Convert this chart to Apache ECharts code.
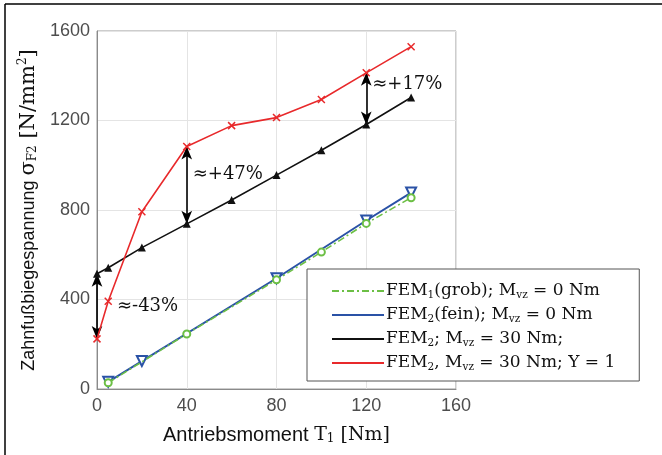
<!DOCTYPE html>
<html><head><meta charset="utf-8">
<script src="https://cdn.jsdelivr.net/npm/echarts@6/dist/echarts.min.js"></script>
<style>html,body{margin:0;padding:0;background:#fff}#c{width:662px;height:455px}</style>
</head><body><div id="c"></div>
<script>
// ---- data ----
const xTicks = [0, 40, 80, 120, 160];
const yTicks = [0, 400, 800, 1200, 1600];
const greenX = [5, 40, 80, 100, 120, 140];
const greenY = [28, 246, 488, 612, 740, 855];
const blueX = [5, 20, 80, 120, 140];
const blueY = [32, 125, 495, 753, 878];
const blackX = [0, 5, 20, 40, 60, 80, 100, 120, 140];
const blackY = [515, 542, 632, 738, 845, 956, 1067, 1182, 1303];
const redX = [0, 5, 20, 40, 60, 80, 100, 120, 140];
const redY = [224, 392, 792, 1084, 1177, 1213, 1294, 1413, 1530];
const annLabels = ['≈-43%', '≈+47%', '≈+17%'];
const annIdx = [0, 3, 7]; // indices into black/red arrays where arrows are
const legendNames = ['g', 'b', 'k', 'r'];

const pair = (xs, ys) => xs.map((x, i) => [x, ys[i]]);
const SERIF = 'DejaVu Serif';
const SANS = 'Liberation Sans';

const richLegend = {
  t: {fontFamily: SERIF, fontSize: 17, color: '#111'},
  s: {fontFamily: SERIF, fontSize: 10.5, color: '#111', padding: [9, 0, 0, 0]}
};
const legendText = {
  g: '{t|FEM}{s|1}{t|(grob); M}{s|vz}{t| = 0 Nm}',
  b: '{t|FEM}{s|2}{t|(fein); M}{s|vz}{t| = 0 Nm}',
  k: '{t|FEM}{s|2}{t|; M}{s|vz}{t| = 30 Nm;}',
  r: '{t|FEM}{s|2}{t|, M}{s|vz}{t| = 30 Nm; Y = 1}'
};

const chart = echarts.init(document.getElementById('c'), null, {renderer: 'canvas'});
const arrowPairs = annIdx.map(i => [{coord: [blackX[i], blackY[i]]}, {coord: [redX[i], redY[i]]}]);

const option = {
  animation: false,
  grid: {left: 97, top: 31, right: 206, bottom: 66, show: true, borderColor: '#9a9a9a', borderWidth: 1},
  xAxis: {
    type: 'value', min: xTicks[0], max: xTicks[xTicks.length - 1], interval: 40,
    axisLine: {lineStyle: {color: '#8a8a8a', width: 1}},
    axisTick: {show: false},
    splitLine: {lineStyle: {color: '#e4e4e4'}},
    axisLabel: {fontFamily: SANS, fontSize: 18, color: '#4d4d4d', margin: 8, formatter: v => String(v)},
    name: '{s|Antriebsmoment }{g|T}{sub|1}{g| [Nm]}',
    nameLocation: 'middle', nameGap: 36,
    nameTextStyle: {rich: {
      s: {fontFamily: SANS, fontSize: 20, color: '#111'},
      g: {fontFamily: SERIF, fontSize: 19, color: '#111'},
      sub: {fontFamily: SERIF, fontSize: 12, color: '#111', padding: [8, 0, 0, 0]}
    }}
  },
  yAxis: {
    type: 'value', min: yTicks[0], max: yTicks[yTicks.length - 1], interval: 400,
    axisLine: {show: true, lineStyle: {color: '#8a8a8a', width: 1}},
    axisTick: {show: false},
    splitLine: {lineStyle: {color: '#e4e4e4'}},
    axisLabel: {fontFamily: SANS, fontSize: 18, color: '#4d4d4d', margin: 7, formatter: v => String(v)},
    name: '{s|Zahnfußbiegespannung }{g|σ}{sub|F2}{g| [N/mm}{sup|2}{g|]}',
    nameLocation: 'middle', nameGap: 40,
    nameTextStyle: {rich: {
      s: {fontFamily: SANS, fontSize: 18, color: '#111'},
      g: {fontFamily: SERIF, fontSize: 21, color: '#111'},
      sub: {fontFamily: SERIF, fontSize: 12, color: '#111', padding: [9, 0, 0, 0]},
      sup: {fontFamily: SERIF, fontSize: 12, color: '#111', padding: [0, 0, 12, 0]}
    }}
  },
  legend: {
    orient: 'vertical', left: 307, top: 269,
    padding: [12, 24, 8, 24],
    backgroundColor: '#fff', borderColor: '#555', borderWidth: 1,
    itemWidth: 52, itemHeight: 14, itemGap: 4,
    itemStyle: {opacity: 0},
    data: legendNames,
    formatter: n => legendText[n],
    textStyle: {rich: richLegend, fontFamily: SERIF, fontSize: 17, lineHeight: 20, padding: [0, 0, 0, -3]}
  },
  series: [
    {name: 'g', type: 'line', data: pair(greenX, greenY), z: 4,
      symbol: 'emptyCircle', symbolSize: 7,
      lineStyle: {color: '#6cbf45', width: 1.6, type: [7, 3, 2, 3]},
      itemStyle: {color: '#6cbf45', borderWidth: 1.3}},
    {name: 'b', type: 'line', data: pair(blueX, blueY), z: 3,
      symbol: 'emptyTriangle', symbolRotate: 180, symbolSize: 10,
      lineStyle: {color: '#2a52a6', width: 2},
      itemStyle: {color: '#2a52a6', borderWidth: 1.5}},
    {name: 'k', type: 'line', data: pair(blackX, blackY), z: 5,
      symbol: 'triangle', symbolSize: 8,
      lineStyle: {color: '#111', width: 1.6},
      itemStyle: {color: '#111'},
      markLine: {
        silent: true, symbol: ['arrow', 'arrow'], symbolSize: [8, 13], precision: 0,
        lineStyle: {color: '#000', width: 1.6, type: 'solid'},
        label: {show: false},
        data: arrowPairs
      }},
    {name: 'r', type: 'line', data: pair(redX, redY), z: 6,
      symbol: 'path://M0,0L10,10M10,0L0,10', symbolSize: 7,
      lineStyle: {color: '#e8292b', width: 1.6},
      itemStyle: {color: 'none', borderColor: '#e8292b', borderWidth: 1.5}}
  ]
};
chart.setOption(option);

// annotation labels next to the arrows, positioned through the chart's own scale
const annOffsetY = [-1, -125, -50];
const annDx = [20, 6, 6];
const g = [
  {type: 'line', shape: {x1: 5, y1: 4, x2: 662, y2: 4}, style: {stroke: '#000', lineWidth: 1.5}},
  {type: 'line', shape: {x1: 5, y1: 4, x2: 5, y2: 455}, style: {stroke: '#000', lineWidth: 1.5}}
];
annIdx.forEach((i, k) => {
  const p = chart.convertToPixel({gridIndex: 0}, [redX[i], redY[i] + annOffsetY[k]]);
  const pb = chart.convertToPixel({gridIndex: 0}, [redX[i], 400]);
  g.push({type: 'text', x: p[0] + annDx[k], y: k === 0 ? pb[1] + 7 : p[1],
    style: {text: annLabels[k], font: '18px "DejaVu Serif"', fill: '#111', textVerticalAlign: 'middle'}, z: 10});
});
chart.setOption({graphic: g});
</script></body></html>
